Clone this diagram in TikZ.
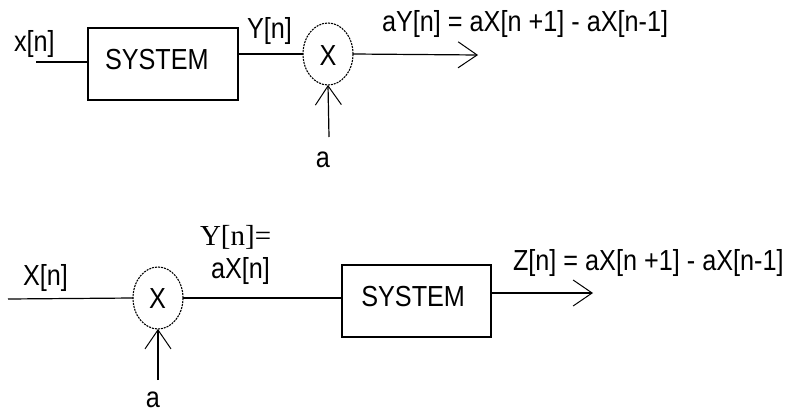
\documentclass[tikz,border=0pt]{standalone}
\usepackage{fontspec}
\usepackage{graphicx}
\setmainfont{Liberation Sans}
\newfontfamily\seriffont{Liberation Serif}
\usetikzlibrary{shapes.geometric,arrows.meta}
\newcommand{\lbl}[1]{\scalebox{0.87}[1]{#1}}
\begin{document}
\begin{tikzpicture}[x=1pt,y=-1pt,
  every node/.style={font=\fontsize{29}{31}\selectfont, inner sep=0pt, outer sep=0pt},
  wire/.style={line width=1.2pt},
  sig/.style={wire,-{Straight Barb[length=19pt,width=26pt,line width=1pt]}},
  sysbox/.style={draw,line width=1.2pt,minimum width=150pt,minimum height=72pt},
  mult/.style={draw,ellipse,dash pattern=on 2pt off 1pt,line width=1.1pt,minimum width=50pt,minimum height=62pt},
]
\useasboundingbox (0,0) rectangle (786,412);
% ---------- top ----------
\coordinate (xin1) at (36,62);
\node[sysbox] (sys1) at (163,64) {};
\node[mult] (m1) at (328,54) {};
\coordinate (y1out) at (478,55);
\coordinate (a1in) at (329,137);
\draw[wire] (xin1) -- (xin1 -| sys1.west);
\draw[wire] (m1.west -| sys1.east) -- (m1.west);
\draw[sig] (m1.east) -- (y1out);
\draw[sig] (a1in) -- (m1.south);
\node[anchor=base west] (t1x) at (14,52) {\lbl{x[n]}};
\node[anchor=base west] (t1sys) at (105,70) {\lbl{SYSTEM}};
\node[anchor=base west] (t1y) at (247,39) {\lbl{Y[n]}};
\node[anchor=base] (t1m) at (328,65) {\lbl{X}};
\node[anchor=base] (t1a) at (323,167) {\lbl{a}};
\node[anchor=base west] (t1out) at (382,32) {\lbl{aY[n] = aX[n +1] - aX[n-1]}};
% ---------- bottom ----------
\coordinate (xin2) at (8,299);
\node[mult] (m2) at (158,298) {};
\node[sysbox,minimum width=149pt] (sys2) at (416.5,301) {};
\coordinate (zout) at (593,293);
\coordinate (a2in) at (158,380);
\draw[wire] (xin2) -- (m2.west);
\draw[wire] (m2.east) -- (m2.east -| sys2.west);
\draw[sig] (zout -| sys2.east) -- (zout);
\draw[sig] (a2in) -- (m2.south);
\node[anchor=base west] (t2x) at (23,285) {\lbl{X[n]}};
\node[anchor=base] (t2m) at (157.5,308) {\lbl{X}};
\node[anchor=base] (t2a) at (153,407) {\lbl{a}};
\node[anchor=base west] (t2y) at (200,245) {\seriffont Y[n]=};
\node[anchor=base west] (t2ax) at (211,278) {\lbl{aX[n]}};
\node[anchor=base east] (t2sys) at (465,306) {\lbl{SYSTEM}};
\node[anchor=base west] (t2out) at (513,270) {\lbl{Z[n] = aX[n +1] - aX[n-1]}};
\end{tikzpicture}
\end{document}
